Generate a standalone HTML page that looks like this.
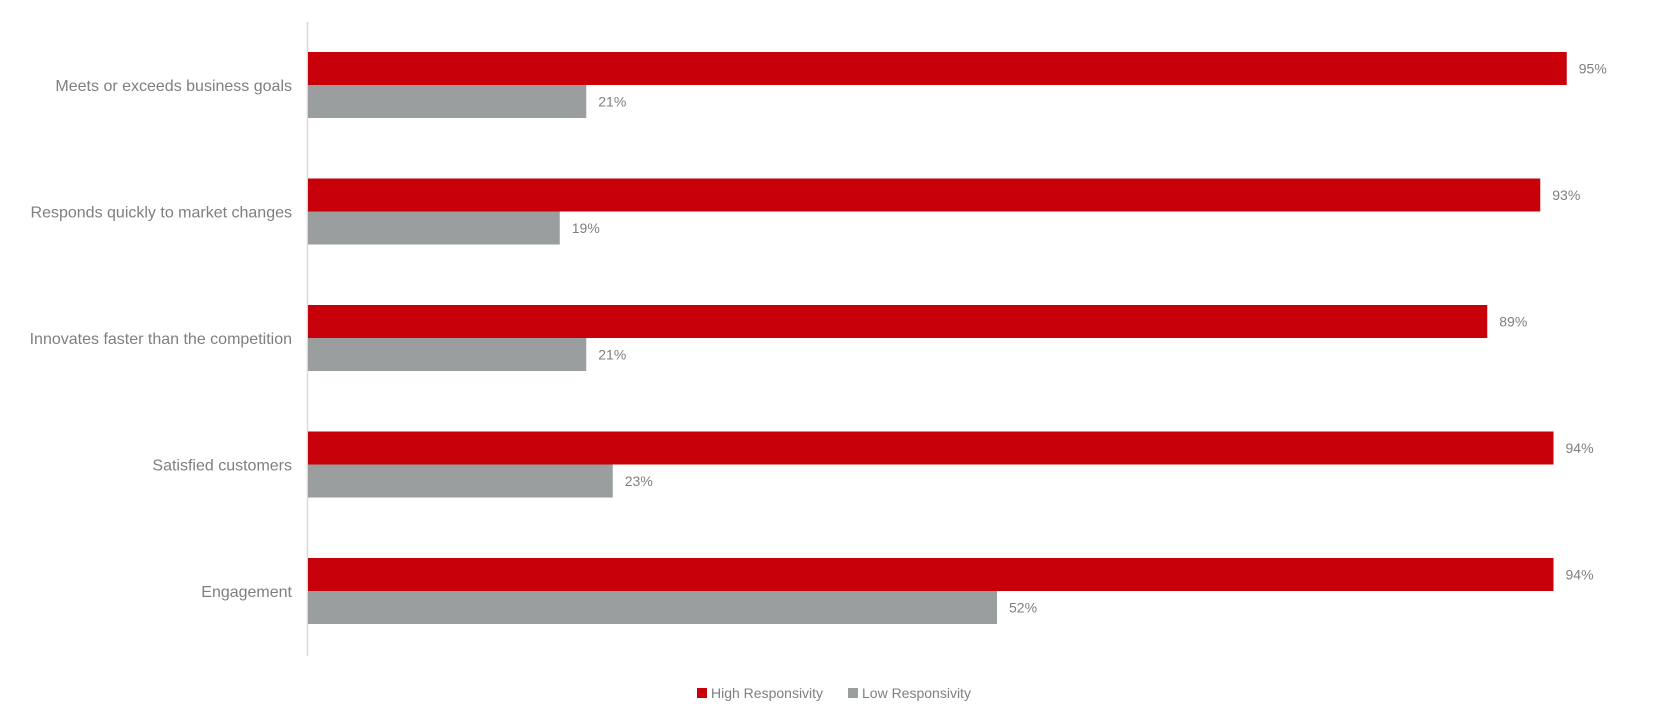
<!DOCTYPE html>
<html><head><meta charset="utf-8"><style>
html,body{margin:0;padding:0;background:#fff;}
svg text{font-family:"Liberation Sans",sans-serif;}
</style></head><body>
<svg id="chart" width="1656" height="718" viewBox="0 0 1656 718">
<line x1="307.5" y1="22" x2="307.5" y2="656" stroke="#d9d9d9" stroke-width="1.5"/>
<g id="bars"></g>
<g>
<g><rect x="697" y="688" width="10" height="10" fill="#c8000a"/><text x="711" y="698" font-size="14" fill="#7f7f7f">High Responsivity</text></g>
<g><rect x="848" y="688" width="10" height="10" fill="#9a9e9e"/><text x="862" y="698" font-size="14" fill="#7f7f7f">Low Responsivity</text></g>
</g>
</svg>
<script>
const categories=["Meets or exceeds business goals","Responds quickly to market changes","Innovates faster than the competition","Satisfied customers","Engagement"];
const highValues=[95,93,89,94,94];
const lowValues=[21,19,21,23,52];
const x0=308,pxPer=13.25,top0=52,groupStep=126.5,barH=33;
const xs=v=>x0+v*pxPer;
const ns="http://www.w3.org/2000/svg";
const g=document.getElementById('bars');
function mk(t,a){const e=document.createElementNS(ns,t);for(const k in a)e.setAttribute(k,a[k]);return e;}
categories.forEach((c,i)=>{
 const y=top0+i*groupStep;
 const lab=mk('text',{x:292,y:y+barH+6,'text-anchor':'end','font-size':16,fill:'#7f7f7f'});
 lab.textContent=c;
 
 
 g.appendChild(lab);
 [[highValues[i],'#c8000a',y,'bar-high'],[lowValues[i],'#9a9e9e',y+barH,'bar-low']].forEach(([v,col,yy,nm])=>{
  const r=mk('rect',{x:x0,y:yy,width:xs(v)-x0,height:barH,fill:col});
  
  
  g.appendChild(r);
  const t=mk('text',{x:xs(v)+12,y:yy+barH/2+5,'font-size':14,fill:'#7f7f7f'});
  t.textContent=v+'%';
  
  
  g.appendChild(t);
 });
});
</script>
</body></html>
